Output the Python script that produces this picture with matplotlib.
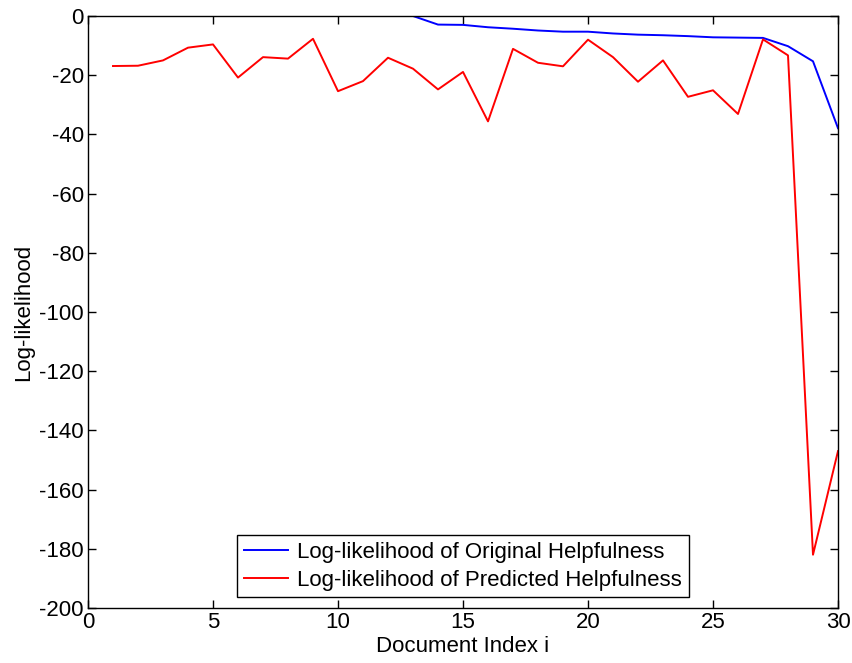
import numpy as np
from matplotlib import pyplot as plt

plt.rcParams["font.family"] = ["Liberation Sans", "DejaVu Sans"]
plt.rcParams["axes.unicode_minus"] = False

doc_index = np.arange(1, 31)
original = [0, 0, 0, 0, 0, 0, 0, 0, 0, 0, 0, 0, 0,
            -2.9, -3.0, -3.8, -4.3, -4.9, -5.3, -5.3, -5.9, -6.3, -6.5,
            -6.8, -7.2, -7.3, -7.4, -10.2, -15.3, -37.9]
predicted = [-16.9, -16.8, -15.0, -10.7, -9.6, -20.8, -13.9, -14.4, -7.7, -25.4,
             -22.0, -14.1, -17.8, -24.8, -18.9, -35.6, -11.1, -15.8, -17.0, -8.0,
             -13.9, -22.2, -15.0, -27.3, -25.1, -33.1, -7.9, -13.3, -182.0, -147.0]

fig = plt.figure(figsize=(8.53, 6.63), dpi=100)
ax = fig.add_axes([88 / 853, 55 / 663, 750 / 853, 592 / 663])

ax.plot(doc_index, original, color=(0, 0, 1), lw=1.4,
        label="Log-likelihood of Original Helpfulness")
ax.plot(doc_index, predicted, color=(1, 0, 0), lw=1.4,
        label="Log-likelihood of Predicted Helpfulness")

ax.set_xlim(0, 30)
ax.set_ylim(-200, 0)
ax.set_xticks(range(0, 31, 5))
ax.set_yticks(range(-200, 1, 20))
ax.tick_params(direction="in", length=5.5, width=1, top=True, right=True,
               labelsize=16)
ax.tick_params(axis="y", pad=3)
ax.tick_params(axis="x", pad=3)
for s in ax.spines.values():
    s.set_linewidth(1.0)
    s.set_zorder(5)

ax.set_xlabel("Document Index i", fontsize=16, labelpad=2)
ax.set_ylabel("Log-likelihood", fontsize=16, labelpad=4)

leg = ax.legend(loc="lower center", bbox_to_anchor=(0.5, 0.018), fontsize=16,
                fancybox=False, edgecolor="black", framealpha=1,
                handlelength=2.0, handletextpad=0.4, borderpad=0.3,
                labelspacing=0.3, borderaxespad=0)
leg.get_frame().set_linewidth(1.0)

fig.savefig("out.png", dpi=100)
